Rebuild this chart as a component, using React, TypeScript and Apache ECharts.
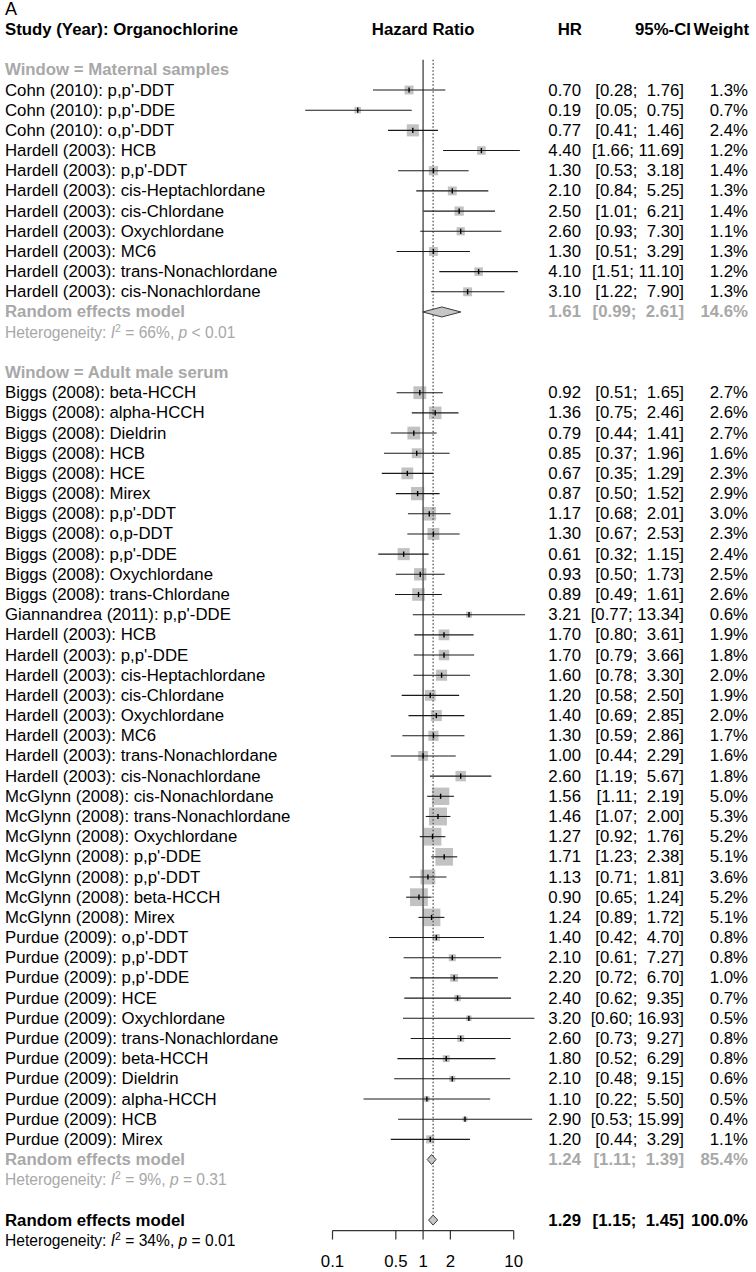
import React, { useEffect, useRef } from 'react';
import * as echarts from 'echarts';

// ---------------- data ----------------
const maternalLabels = [
  "Cohn (2010): p,p'-DDT",
  "Cohn (2010): p,p'-DDE",
  "Cohn (2010): o,p'-DDT",
  'Hardell (2003): HCB',
  "Hardell (2003): p,p'-DDT",
  'Hardell (2003): cis-Heptachlordane',
  'Hardell (2003): cis-Chlordane',
  'Hardell (2003): Oxychlordane',
  'Hardell (2003): MC6',
  'Hardell (2003): trans-Nonachlordane',
  'Hardell (2003): cis-Nonachlordane',
];
const maternalHR = [0.70, 0.19, 0.77, 4.40, 1.30, 2.10, 2.50, 2.60, 1.30, 4.10, 3.10];
const maternalLower = [0.28, 0.05, 0.41, 1.66, 0.53, 0.84, 1.01, 0.93, 0.51, 1.51, 1.22];
const maternalUpper = [1.76, 0.75, 1.46, 11.69, 3.18, 5.25, 6.21, 7.30, 3.29, 11.10, 7.90];
const maternalWeight = [1.3, 0.7, 2.4, 1.2, 1.4, 1.3, 1.4, 1.1, 1.3, 1.2, 1.3];

const adultLabels = [
  'Biggs (2008): beta-HCCH',
  'Biggs (2008): alpha-HCCH',
  'Biggs (2008): Dieldrin',
  'Biggs (2008): HCB',
  'Biggs (2008): HCE',
  'Biggs (2008): Mirex',
  "Biggs (2008): p,p'-DDT",
  'Biggs (2008): o,p-DDT',
  "Biggs (2008): p,p'-DDE",
  'Biggs (2008): Oxychlordane',
  'Biggs (2008): trans-Chlordane',
  "Giannandrea (2011): p,p'-DDE",
  'Hardell (2003): HCB',
  "Hardell (2003): p,p'-DDE",
  'Hardell (2003): cis-Heptachlordane',
  'Hardell (2003): cis-Chlordane',
  'Hardell (2003): Oxychlordane',
  'Hardell (2003): MC6',
  'Hardell (2003): trans-Nonachlordane',
  'Hardell (2003): cis-Nonachlordane',
  'McGlynn (2008): cis-Nonachlordane',
  'McGlynn (2008): trans-Nonachlordane',
  'McGlynn (2008): Oxychlordane',
  "McGlynn (2008): p,p'-DDE",
  "McGlynn (2008): p,p'-DDT",
  'McGlynn (2008): beta-HCCH',
  'McGlynn (2008): Mirex',
  "Purdue (2009): o,p'-DDT",
  "Purdue (2009): p,p'-DDT",
  "Purdue (2009): p,p'-DDE",
  'Purdue (2009): HCE',
  'Purdue (2009): Oxychlordane',
  'Purdue (2009): trans-Nonachlordane',
  'Purdue (2009): beta-HCCH',
  'Purdue (2009): Dieldrin',
  'Purdue (2009): alpha-HCCH',
  'Purdue (2009): HCB',
  'Purdue (2009): Mirex',
];
const adultHR = [0.92, 1.36, 0.79, 0.85, 0.67, 0.87, 1.17, 1.30, 0.61, 0.93, 0.89, 3.21, 1.70, 1.70, 1.60, 1.20, 1.40, 1.30, 1.00, 2.60, 1.56, 1.46, 1.27, 1.71, 1.13, 0.90, 1.24, 1.40, 2.10, 2.20, 2.40, 3.20, 2.60, 1.80, 2.10, 1.10, 2.90, 1.20];
const adultLower = [0.51, 0.75, 0.44, 0.37, 0.35, 0.50, 0.68, 0.67, 0.32, 0.50, 0.49, 0.77, 0.80, 0.79, 0.78, 0.58, 0.69, 0.59, 0.44, 1.19, 1.11, 1.07, 0.92, 1.23, 0.71, 0.65, 0.89, 0.42, 0.61, 0.72, 0.62, 0.60, 0.73, 0.52, 0.48, 0.22, 0.53, 0.44];
const adultUpper = [1.65, 2.46, 1.41, 1.96, 1.29, 1.52, 2.01, 2.53, 1.15, 1.73, 1.61, 13.34, 3.61, 3.66, 3.30, 2.50, 2.85, 2.86, 2.29, 5.67, 2.19, 2.00, 1.76, 2.38, 1.81, 1.24, 1.72, 4.70, 7.27, 6.70, 9.35, 16.93, 9.27, 6.29, 9.15, 5.50, 15.99, 3.29];
const adultWeight = [2.7, 2.6, 2.7, 1.6, 2.3, 2.9, 3.0, 2.3, 2.4, 2.5, 2.6, 0.6, 1.9, 1.8, 2.0, 1.9, 2.0, 1.7, 1.6, 1.8, 5.0, 5.3, 5.2, 5.1, 3.6, 5.2, 5.1, 0.8, 0.8, 1.0, 0.7, 0.5, 0.8, 0.8, 0.6, 0.5, 0.4, 1.1];

const subgroupNames = ['Maternal samples', 'Adult male serum'];
const subgroupHR = [1.61, 1.24];
const subgroupLower = [0.99, 1.11];
const subgroupUpper = [2.61, 1.39];
const subgroupWeight = [14.6, 85.4];
const subgroupI2 = [66, 9];
const subgroupP = ['< 0.01', '= 0.31'];

const overallHR = 1.29;
const overallLower = 1.15;
const overallUpper = 1.45;
const overallWeight = 100.0;
const overallI2 = 34;
const overallP = '= 0.01';

const axisTicks = [0.1, 0.5, 1, 2, 10];
const axisTickLabels = ['0.1', '0.5', '1', '2', '10'];

// ---------------- styles / layout ----------------
const FONT = '"Liberation Sans", Arial, Helvetica, sans-serif';
const FS = 16.8;
const FS_HET = 15.6;
const GREY = '#a8a8a8';
const SQUARE = '#c2c2c2';
const ROW_H = 20.18;
const FIRST_Y = 90;
const Y_MIN = -4;
const Y_MAX = 58;
const X_LEFT = 332.5;
const X_RIGHT = 513.7;
const COL_LABEL = 5;
const COL_HR = 581;
const COL_CI = 684;
const COL_W = 748;
const SQUARE_K = 7.8;

const fmtHR = (v: number) => v.toFixed(2);
const fmtCI = (lo: number, hi: number) =>
  '[' + lo.toFixed(2) + ';' + (hi < 10 ? '\u00a0\u00a0' : '\u00a0') + hi.toFixed(2) + ']';
const fmtW = (w: number) => w.toFixed(1) + '%';

// build rows
type Study = { label: string; hr: number; lo: number; hi: number; w: number; row: number };
type Summary = { hr: number; lo: number; hi: number; w: number; row: number; grey: boolean; i2: number; p: string };
const studies: Study[] = [];
const summaries: Summary[] = [];
const windows: { text: string; row: number }[] = [];
const groups = [
  { labels: maternalLabels, hr: maternalHR, lo: maternalLower, hi: maternalUpper, w: maternalWeight },
  { labels: adultLabels, hr: adultHR, lo: adultLower, hi: adultUpper, w: adultWeight },
];
let r = -1;
groups.forEach((g, gi) => {
  windows.push({ text: 'Window = ' + subgroupNames[gi], row: r });
  r++;
  g.labels.forEach((lab, i) => {
    studies.push({ label: lab, hr: g.hr[i], lo: g.lo[i], hi: g.hi[i], w: g.w[i], row: r });
    r++;
  });
  summaries.push({ hr: subgroupHR[gi], lo: subgroupLower[gi], hi: subgroupUpper[gi], w: subgroupWeight[gi], row: r, grey: true, i2: subgroupI2[gi], p: subgroupP[gi] });
  r += 3;
});
const overallRow = r;
summaries.push({ hr: overallHR, lo: overallLower, hi: overallUpper, w: overallWeight, row: overallRow, grey: false, i2: overallI2, p: overallP });

function txt(x: number, y: number, text: string, opts: any = {}) {
  return {
    type: 'text',
    x,
    y,
    style: {
      text,
      fill: opts.color || '#000',
      fontSize: opts.fontSize || FS,
      fontFamily: FONT,
      fontWeight: opts.bold ? 'bold' : 'normal',
      align: opts.align || 'left',
      verticalAlign: 'middle',
    },
  };
}

function hetText(x: number, y: number, i2: number, p: string, color: string) {
  const base = { fontSize: FS_HET, fontFamily: FONT, fill: color };
  return {
    type: 'text',
    x,
    y,
    style: {
      text: 'Heterogeneity: {i|I}{s|2} = ' + i2 + '%, {i|p} ' + p,
      fill: color,
      fontSize: FS_HET,
      fontFamily: FONT,
      lineHeight: 20,
      align: 'left',
      verticalAlign: 'middle',
      rich: {
        i: { ...base, fontStyle: 'italic', lineHeight: 20 },
        s: { fontSize: 10.5, fontFamily: FONT, fill: color, verticalAlign: 'top', lineHeight: 10 },
      },
    },
  };
}

const option: any = {
  animation: false,
  backgroundColor: '#fff',
  grid: { left: X_LEFT, right: 756 - X_RIGHT, top: FIRST_Y + Y_MIN * ROW_H, height: (Y_MAX - Y_MIN) * ROW_H },
  xAxis: { type: 'log', logBase: 10, min: axisTicks[0], max: axisTicks[axisTicks.length - 1], show: false },
  yAxis: { type: 'value', inverse: true, min: Y_MIN, max: Y_MAX, show: false },
  series: [
    // header texts
    {
      type: 'custom',
      data: [[1, -4]],
      renderItem: (params: any, api: any) => {
        const y0 = api.coord([1, -4])[1];
        const yh = api.coord([1, -3])[1];
        const xc = api.coord([1, -3])[0];
        return {
          type: 'group',
          children: [
            txt(COL_LABEL, y0, 'A', { fontSize: 18 }),
            txt(COL_LABEL, yh, 'Study (Year): Organochlorine', { bold: true }),
            txt(xc, yh, 'Hazard Ratio', { bold: true, align: 'center' }),
            txt(COL_HR + 1, yh, 'HR', { bold: true, align: 'right' }),
            txt(COL_CI + 7, yh, '95%-CI', { bold: true, align: 'right' }),
            txt(COL_W + 1, yh, 'Weight', { bold: true, align: 'right' }),
          ],
        };
      },
    },
    // window labels
    {
      type: 'custom',
      data: windows.map((w) => [1, w.row]),
      renderItem: (params: any, api: any) => {
        const w = windows[params.dataIndex];
        const y = api.coord([1, w.row])[1];
        return txt(COL_LABEL, y, w.text, { bold: true, color: GREY });
      },
    },
    // studies
    {
      type: 'custom',
      data: studies.map((s) => [s.hr, s.row]),
      renderItem: (params: any, api: any) => {
        const s = studies[params.dataIndex];
        const [cx, cy] = api.coord([s.hr, s.row]);
        const xl = api.coord([s.lo, s.row])[0];
        const xh = api.coord([s.hi, s.row])[0];
        const side = SQUARE_K * Math.sqrt(s.w);
        return {
          type: 'group',
          children: [
            { type: 'rect', shape: { x: cx - side / 2, y: cy - side / 2, width: side, height: side }, style: { fill: SQUARE } },
            { type: 'line', z2: 5, shape: { x1: xl, y1: cy, x2: xh, y2: cy }, style: { stroke: '#1a1a1a', lineWidth: 1.1 } },
            { type: 'line', z2: 6, shape: { x1: cx, y1: cy - 2.6, x2: cx, y2: cy + 2.6 }, style: { stroke: '#000', lineWidth: 1.4 } },
            txt(COL_LABEL, cy, s.label),
            txt(COL_HR, cy, fmtHR(s.hr), { align: 'right' }),
            txt(COL_CI, cy, fmtCI(s.lo, s.hi), { align: 'right' }),
            txt(COL_W, cy, fmtW(s.w), { align: 'right' }),
          ],
        };
      },
    },
    // reference lines
    {
      type: 'custom',
      data: [[1, -1.5], [overallHR, -1.5]],
      renderItem: (params: any, api: any) => {
        const i = params.dataIndex;
        const v = i === 0 ? 1 : overallHR;
        const [x, yTop] = api.coord([v, -1.5]);
        const yOverall = api.coord([v, overallRow])[1];
        if (i === 0) {
          return { type: 'line', shape: { x1: x, y1: yTop, x2: x, y2: yOverall + 10.5 }, style: { stroke: '#5a5a5a', lineWidth: 1.5 } };
        }
        return { type: 'line', shape: { x1: x, y1: yTop, x2: x, y2: yOverall - 5 }, style: { stroke: '#444', lineWidth: 1.2, lineDash: [1.5, 2] } };
      },
    },
    // summaries
    {
      type: 'custom',
      data: summaries.map((s) => [s.hr, s.row]),
      renderItem: (params: any, api: any) => {
        const s = summaries[params.dataIndex];
        const [cx, cy] = api.coord([s.hr, s.row]);
        const xl = api.coord([s.lo, s.row])[0];
        const xh = api.coord([s.hi, s.row])[0];
        const col = s.grey ? GREY : '#000';
        const hy = api.coord([1, s.row + 1])[1];
        return {
          type: 'group',
          children: [
            {
              type: 'polygon',
              z2: 8,
              shape: { points: [[xl, cy], [cx, cy - 5], [xh, cy], [cx, cy + 5]] },
              style: { fill: '#c6c6c6', stroke: '#3a3a3a', lineWidth: 1 },
            },
            txt(COL_LABEL, cy, 'Random effects model', { bold: true, color: col }),
            txt(COL_HR, cy, fmtHR(s.hr), { bold: true, align: 'right', color: col }),
            txt(COL_CI, cy, fmtCI(s.lo, s.hi), { bold: true, align: 'right', color: col }),
            txt(COL_W, cy, fmtW(s.w), { bold: true, align: 'right', color: col }),
            hetText(COL_LABEL, hy, s.i2, s.p, col),
          ],
        };
      },
    },
    // x axis
    {
      type: 'custom',
      data: axisTicks.map((v) => [v, overallRow]),
      renderItem: (params: any, api: any) => {
        const i = params.dataIndex;
        const v = axisTicks[i];
        const [x, yo] = api.coord([v, overallRow]);
        const ya = yo + 10.5;
        const children: any[] = [
          { type: 'line', shape: { x1: x, y1: ya, x2: x, y2: ya + 9 }, style: { stroke: '#333', lineWidth: 1.2 } },
          txt(x, ya + 31, axisTickLabels[i], { align: 'center' }),
        ];
        if (i === 0) {
          const xe = api.coord([axisTicks[axisTicks.length - 1], overallRow])[0];
          children.push({ type: 'line', shape: { x1: x, y1: ya, x2: xe, y2: ya }, style: { stroke: '#333', lineWidth: 1.2 } });
        }
        return { type: 'group', children };
      },
    },
  ],
};

export default function App() {
  const ref = useRef<HTMLDivElement>(null);
  useEffect(() => {
    const chart = echarts.init(ref.current as HTMLDivElement, null, { renderer: 'svg' });
    chart.setOption(option);
    return () => chart.dispose();
  }, []);
  return (
    <div
      ref={ref}
      style={{ position: 'absolute', left: 0, top: 0, width: 756, height: 1272, background: '#fff' }}
    />
  );
}
